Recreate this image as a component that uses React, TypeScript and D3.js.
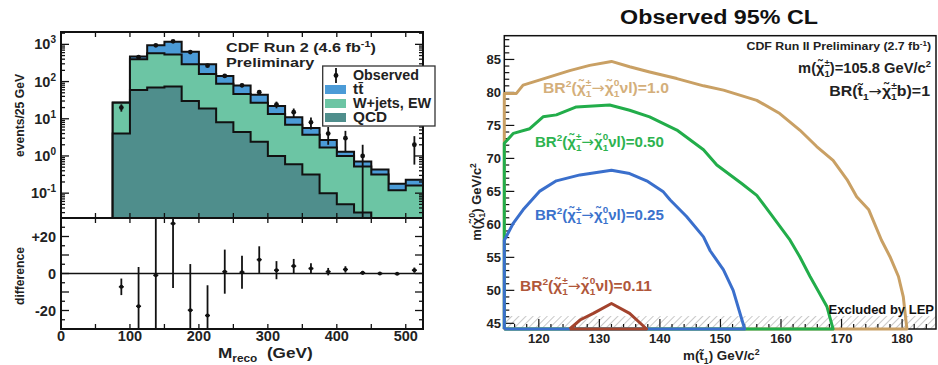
import React, { useLayoutEffect, useRef, useState } from "react";
import * as d3 from "d3";

// ---- left: M_reco histogram (CDF Run 2, 4.6 fb-1) ----
const binLow = [75, 100, 125, 150, 175, 200, 225, 250, 275, 300, 325, 350, 375, 400, 425, 450, 475, 500];
const binWidth = 25;
const qcdValues = [4, 59, 69, 74, 30, 19, 8, 4.4, 2.4, 1.0, 0.6, 0.32, 0.1, 0.05, 0.03, 0, 0, 0];
const wjetsValues = [23, 341, 511, 456, 263, 141, 79, 41.6, 24.6, 12.5, 6.3, 3.4, 1.6, 0.95, 0.49, 0.32, 0.12, 0.16];
const ttbarValues = [0.5, 70, 360, 650, 345, 130, 54, 32, 17, 8.5, 4.1, 1.9, 1.0, 0.3, 0.19, 0.11, 0.06, 0.07];
const observedValues = [20, 450, 940, 1210, 620, 267, 142, 79, 52, 24, 15, 8, 4, 3, 1, 0, 0, 2];
const differenceValues = [-7.2, -17.7, -1, 27, -19.8, -22.7, 1, 0.7, 7.5, 1.8, 4, 2.7, 1, 2.2, 0.4, 0, -0.2, 1.8];
const massTicks = [0, 100, 200, 300, 400, 500];
const logExponents = [-1, 0, 1, 2, 3];
const diffTicks = [-20, 0, 20];

// ---- right: observed 95% CL contours ----
const contourBR100 = [
  [114.3, 79.85], [116.3, 79.85], [117.4, 81.1], [120.2, 81.9], [125.1, 83.3], [128.4, 84.1],
  [132.0, 84.7], [135.0, 83.9], [138.3, 83.1], [142.8, 82.1], [147.2, 81.0], [150.5, 80.35],
  [156.0, 78.8], [159.8, 76.8], [163.1, 74.3], [165.9, 71.8], [168.6, 69.7], [170.9, 66.8],
  [172.5, 64.2], [174.5, 62.2], [176.6, 57.6], [178.0, 55.1], [179.4, 52.1], [180.2, 49.0],
  [180.5, 46.5], [180.8, 44.14],
];
const contourBR050 = [
  [114.3, 72.3], [115.8, 73.8], [118.5, 74.5], [120.7, 76.3], [122.9, 76.6], [126.2, 77.8],
  [131.7, 78.1], [135.0, 77.3], [138.3, 76.3], [142.8, 74.3], [147.2, 71.3], [149.4, 69.0],
  [153.5, 66.2], [156.0, 64.4], [158.2, 61.7], [161.5, 57.6], [163.1, 55.1], [164.8, 52.1],
  [166.4, 49.5], [167.6, 47.5], [168.6, 44.14],
];
const contourBR025 = [
  [114.3, 57.6], [115.8, 60.2], [117.4, 62.2], [120.1, 65.0], [122.9, 66.6], [126.8, 67.5],
  [132.0, 68.2], [135.0, 67.7], [138.0, 66.5], [140.5, 65.0], [141.7, 63.7], [144.4, 61.2],
  [147.2, 58.1], [148.3, 56.0], [150.5, 53.1], [152.1, 50.0], [154.0, 44.14],
];
const contourBR011 = [
  [125.1, 44.14], [126.8, 45.5], [129.0, 46.5], [132.0, 48.0], [135.0, 46.5], [137.8, 44.14],
];
const lepLimit = 46.1;
const stopTicks = [120, 130, 140, 150, 160, 170, 180];
const neutralinoTicks = [45, 50, 55, 60, 65, 70, 75, 80, 85];

const FONT = "'Liberation Sans', Arial, Helvetica, sans-serif";
const ARROW_FONT = "'DejaVu Sans', sans-serif";
const colTT = "#4b9bd7";
const colW = "#6cc5a4";
const colQCD = "#4f8e8c";

// scales
const xL = d3.scaleLinear().domain([0, 525]).range([61, 423]);
const yTop = d3.scaleLog().domain([0.0215, 2150]).range([218, 32]);
const yDiff = d3.scaleLinear().domain([-30, 30]).range([329, 218]);
const xR = d3.scaleLinear().domain([114.3, 185.6]).range([504.3, 936]);
const yR = d3.scaleLinear().domain([44.14, 88.6]).range([329, 35.7]);

function yLog(v: number) {
  const yb = yTop.range()[0];
  if (v <= 0) return yb;
  return Math.min(yTop(v), yb);
}

function stepPath(vals: number[]) {
  const yb = yTop.range()[0];
  let p = `M${xL(binLow[0])},${yb}`;
  vals.forEach((v, i) => {
    const y = yLog(v);
    p += `L${xL(binLow[i])},${y}L${xL(binLow[i] + binWidth)},${y}`;
  });
  p += `L${xL(binLow[binLow.length - 1] + binWidth)},${yb}`;
  return p;
}

function contourPath(pts: number[][], closeAlongAxes: boolean) {
  const [x0] = xR.domain();
  const [y0] = yR.domain();
  const line = d3.line<number[]>().x((d) => xR(d[0])).y((d) => yR(d[1]));
  const all = closeAlongAxes ? [[x0, y0], ...pts, [x0, y0]] : [...pts, pts[0]];
  return line(all) as string;
}

// text stretched horizontally to the width it has in the picture
function FitText(props: any) {
  const { x, y, width, anchor = "start", children, ...rest } = props;
  const ref = useRef<SVGTextElement>(null);
  const [sx, setSx] = useState(1);
  useLayoutEffect(() => {
    if (ref.current) {
      const w = ref.current.getBBox().width;
      if (w > 0) setSx(width / w);
    }
  }, [width]);
  return (
    <g transform={`translate(${x},${y}) scale(${sx},1)`}>
      <text ref={ref} x={0} y={0} textAnchor={anchor} {...rest}>{children}</text>
    </g>
  );
}

function Chi({ sub, sup, size, tail, tailFont }: { sub: string; sup: string; size: number; tail: string; tailFont?: string }) {
  const s = size * 0.65;
  return (
    <>
      <tspan>{"\u03c7\u0303"}</tspan>
      <tspan dy={size * 0.3} fontSize={s}>{sub}</tspan>
      <tspan dx={-s * 0.55} dy={-size * 0.78} fontSize={s}>{sup}</tspan>
      <tspan dy={size * 0.48} fontFamily={tailFont} fontWeight={tailFont ? "normal" : undefined}>{tail}</tspan>
    </>
  );
}

const Arrow = ({ dy = 0 }: { dy?: number }) => (
  <tspan dy={dy} fontFamily={ARROW_FONT} fontWeight="normal">{"\u2192"}</tspan>
);

function BRLabel({ x, y, color, value, width }: { x: number; y: number; color: string; value: string; width: number }) {
  return (
    <FitText x={x} y={y} width={width} fill={color} fontSize={14.5}>
      BR<tspan dy={-6} fontSize={9.5}>2</tspan><tspan dy={6}>(</tspan>
      <Chi sub="1" sup="±" size={14.5} tail={"\u2192"} tailFont={ARROW_FONT} />
      <Chi sub="1" sup="0" size={14.5} tail={"\u03bdl)=" + value} />
    </FitText>
  );
}

function HistPanel() {
  const wTop = qcdValues.map((v, i) => v + wjetsValues[i]);
  const total = wTop.map((v, i) => v + ttbarValues[i]);
  const [x0, x1] = xL.range();
  const minorLog: number[] = [];
  for (let e = -2; e <= 3; e++) for (let k = 2; k <= 9; k++) {
    const v = k * Math.pow(10, e);
    if (v > yTop.domain()[0] && v < yTop.domain()[1]) minorLog.push(v);
  }
  const xTicks50 = d3.range(0, 525, 50);
  return (
    <g fontFamily={FONT} fontWeight="bold">
      <defs>
        <clipPath id="topClip"><rect x={x0} y={32} width={x1 - x0} height={186} /></clipPath>
        <clipPath id="botClip"><rect x={x0} y={218} width={x1 - x0} height={111} /></clipPath>
      </defs>
      {/* stacked histograms */}
      <g clipPath="url(#topClip)" stroke="#111" strokeWidth={2} strokeLinejoin="miter">
        <path d={stepPath(total)} fill={colTT} />
        <path d={stepPath(wTop)} fill={colW} />
        <path d={stepPath(qcdValues)} fill={colQCD} />
        {observedValues.map((o, i) => {
          if (o <= 0) return null;
          const cx = xL(binLow[i] + binWidth / 2);
          const err = Math.sqrt(o);
          return (
            <g key={i}>
              <line x1={cx} x2={cx} y1={yLog(o + err)} y2={yLog(o - err)} strokeWidth={1.8} />
              <circle cx={cx} cy={yLog(o)} r={2.4} fill="#111" stroke="none" />
            </g>
          );
        })}
      </g>
      {/* difference panel */}
      <line x1={x0} x2={x1} y1={yDiff(0)} y2={yDiff(0)} stroke="#111" strokeWidth={1.6} />
      <g clipPath="url(#botClip)" stroke="#111">
        {differenceValues.map((d, i) => {
          const cx = xL(binLow[i] + binWidth / 2);
          const err = Math.sqrt(observedValues[i]);
          return (
            <g key={i}>
              <line x1={cx} x2={cx} y1={yDiff(d + err)} y2={yDiff(d - err)} strokeWidth={1.8} />
              <line x1={cx - 2.5} x2={cx + 2.5} y1={yDiff(d)} y2={yDiff(d)} strokeWidth={1.5} />
              <circle cx={cx} cy={yDiff(d)} r={2} fill="#111" stroke="none" />
            </g>
          );
        })}
      </g>
      {/* frames */}
      <rect x={x0} y={32} width={x1 - x0} height={297} fill="none" stroke="#111" strokeWidth={2} />
      <line x1={x0} x2={x1} y1={218} y2={218} stroke="#111" strokeWidth={2} />
      {/* ticks */}
      <g stroke="#111" strokeWidth={1.3}>
        {xTicks50.map((t) => (
          <g key={t}>
            <line x1={xL(t)} x2={xL(t)} y1={32} y2={37} />
            <line x1={xL(t)} x2={xL(t)} y1={218} y2={213} />
            <line x1={xL(t)} x2={xL(t)} y1={218} y2={223} />
            <line x1={xL(t)} x2={xL(t)} y1={329} y2={324} />
          </g>
        ))}
        {logExponents.map((e) => {
          const y = yTop(Math.pow(10, e));
          return (
            <g key={e}>
              <line x1={x0} x2={x0 + 8} y1={y} y2={y} />
              <line x1={x1} x2={x1 - 8} y1={y} y2={y} />
            </g>
          );
        })}
        {minorLog.map((v) => (
          <g key={v}>
            <line x1={x0} x2={x0 + 4} y1={yTop(v)} y2={yTop(v)} />
            <line x1={x1} x2={x1 - 4} y1={yTop(v)} y2={yTop(v)} />
          </g>
        ))}
        {d3.range(-25, 30, 5).map((t) => {
          const len = t % 10 === 0 ? 8 : 4;
          return (
            <g key={t}>
              <line x1={x0} x2={x0 + len} y1={yDiff(t)} y2={yDiff(t)} />
              <line x1={x1} x2={x1 - len} y1={yDiff(t)} y2={yDiff(t)} />
            </g>
          );
        })}
      </g>
      {/* tick labels */}
      <g fontSize={14.5} fill="#222">
        {logExponents.map((e) => (
          <text key={e} x={56} y={yTop(Math.pow(10, e)) + 5} textAnchor="end">
            10<tspan dy={-6} fontSize={10}>{e < 0 ? "-" + -e : String(e)}</tspan>
          </text>
        ))}
        {diffTicks.map((t) => (
          <text key={t} x={56} y={yDiff(t) + 5} textAnchor="end">{t > 0 ? "+" + t : String(t)}</text>
        ))}
        {massTicks.map((t) => (
          <text key={t} x={xL(t)} y={341} textAnchor="middle">{t}</text>
        ))}
      </g>
      {/* axis titles */}
      <text transform="translate(24,115.5) rotate(-90)" textAnchor="middle" fontSize={12.5} fill="#222"
        textLength={83} lengthAdjust="spacingAndGlyphs">events/25 GeV</text>
      <text transform="translate(24,276) rotate(-90)" textAnchor="middle" fontSize={12.5} fill="#222"
        textLength={58} lengthAdjust="spacingAndGlyphs">difference</text>
      <FitText x={218} y={358} width={95} fontSize={14.5} fill="#222">
        M<tspan dy={4} fontSize={10}>reco</tspan><tspan dy={-4}>{"\u00a0\u00a0(GeV)"}</tspan>
      </FitText>
      {/* annotation */}
      <FitText x={226} y={52} width={150} fontSize={13.5} fill="#222">
        CDF Run 2 (4.6 fb<tspan dy={-5} fontSize={9}>-1</tspan><tspan dy={5}>)</tspan>
      </FitText>
      <FitText x={226} y={66.5} width={89} fontSize={13.5} fill="#222">Preliminary</FitText>
      {/* legend */}
      <g>
        <rect x={322.7} y={66} width={112.3} height={60} fill="#fff" stroke="#333" strokeWidth={1.3} />
        <line x1={336} x2={336} y1={68} y2={83} stroke="#111" strokeWidth={1.8} />
        <circle cx={336} cy={75.5} r={2.4} fill="#111" />
        <rect x={325} y={85} width={21} height={9} fill={colTT} />
        <rect x={325} y={99} width={21} height={9} fill={colW} />
        <rect x={325} y={113} width={21} height={9} fill={colQCD} />
        <g fill="#222">
          <FitText x={353} y={80} width={66} fontSize={14}>Observed</FitText>
          <FitText x={353} y={94} width={11} fontSize={14}>{"tt\u0304"}</FitText>
          <FitText x={353} y={108} width={79} fontSize={14}>W+jets, EW</FitText>
          <FitText x={353} y={122} width={34} fontSize={14}>QCD</FitText>
        </g>
      </g>
    </g>
  );
}

function ContourPanel() {
  const [x0, x1] = xR.range();
  const [yb, yt] = yR.range();
  const yMinor = d3.range(45, 89, 1);
  const xMinor = d3.range(116, 186, 2);
  return (
    <g fontFamily={FONT} fontWeight="bold">
      <defs>
        <pattern id="lepHatch" width={5} height={5} patternUnits="userSpaceOnUse" patternTransform="rotate(45)">
          <line x1={0} y1={0} x2={0} y2={5} stroke="#9a9a9a" strokeWidth={1.1} />
        </pattern>
      </defs>
      <FitText x={719} y={24} width={198} anchor="middle" fontSize={21} fill="#111">Observed 95% CL</FitText>
      <rect x={x0} y={yR(lepLimit)} width={x1 - x0} height={yb - yR(lepLimit)} fill="url(#lepHatch)" />
      <rect x={x0} y={yt} width={x1 - x0} height={yb - yt} fill="none" stroke="#111" strokeWidth={1.5} />
      <g stroke="#111" strokeWidth={1.2}>
        {yMinor.map((t) => (
          <line key={t} x1={x0} x2={x0 + (t % 5 === 0 ? 10 : 5)} y1={yR(t)} y2={yR(t)} />
        ))}
        {xMinor.map((t) => (
          <line key={t} x1={xR(t)} x2={xR(t)} y1={yb} y2={yb - (t % 10 === 0 ? 10 : 5)} />
        ))}
      </g>
      <g fill="none" strokeWidth={3} strokeLinejoin="round">
        <path d={contourPath(contourBR100, true)} stroke="#c9a064" />
        <path d={contourPath(contourBR050, true)} stroke="#22ad4a" />
        <path d={contourPath(contourBR025, true)} stroke="#3a6fcc" />
        <path d={contourPath(contourBR011, false)} stroke="#a3432d" />
      </g>
      <g fontSize={13} fill="#222">
        {neutralinoTicks.map((t) => (
          <text key={t} x={501} y={yR(t) + 4.5} textAnchor="end">{t}</text>
        ))}
        {stopTicks.map((t) => (
          <text key={t} x={xR(t)} y={343} textAnchor="middle">{t}</text>
        ))}
      </g>
      <FitText x={683} y={360} width={77} fontSize={13} fill="#222">
        {"m(t\u0303"}<tspan dy={4} fontSize={8.5}>1</tspan><tspan dy={-4}>) GeV/c</tspan><tspan dy={-5} fontSize={8.5}>2</tspan>
      </FitText>
      <text transform="translate(481,202) rotate(-90)" textAnchor="middle" fontSize={13} fill="#222">
        m(<Chi sub="1" sup="0" size={13} tail=") GeV/c" /><tspan dy={-5} fontSize={8.5}>2</tspan>
      </text>
      <BRLabel x={543} y={93} width={126} color="#d4af7b" value="1.0" />
      <BRLabel x={535} y={147} width={129} color="#2db34f" value="0.50" />
      <BRLabel x={535} y={219.5} width={129} color="#3b72cc" value="0.25" />
      <BRLabel x={520} y={291} width={132} color="#b0573a" value="0.11" />
      <FitText x={931} y={50} width={185} anchor="end" fontSize={11.5} fill="#222">
        CDF Run II Preliminary (2.7 fb<tspan dy={-4} fontSize={7.5}>-1</tspan><tspan dy={4}>)</tspan>
      </FitText>
      <FitText x={931} y={73} width={133} anchor="end" fontSize={14} fill="#222">
        m(<Chi sub="1" sup="±" size={14} tail=")=105.8 GeV/c" /><tspan dy={-6} fontSize={9}>2</tspan>
      </FitText>
      <FitText x={930} y={96} width={101} anchor="end" fontSize={14} fill="#222">
        {"BR(t\u0303"}<tspan dy={4} fontSize={9}>1</tspan><Arrow dy={-4} />
        <Chi sub="1" sup="±" size={14} tail="b)=1" />
      </FitText>
      <text x={934} y={314} textAnchor="end" fontSize={13} fill="#111">Excluded by LEP</text>
    </g>
  );
}

export default function App() {
  return (
    <svg
      width={938}
      height={365}
      viewBox="0 0 938 365"
      style={{ position: "absolute", left: 0, top: 0, background: "#fff" }}
    >
      <rect width={938} height={365} fill="#fff" />
      <HistPanel />
      <ContourPanel />
    </svg>
  );
}
